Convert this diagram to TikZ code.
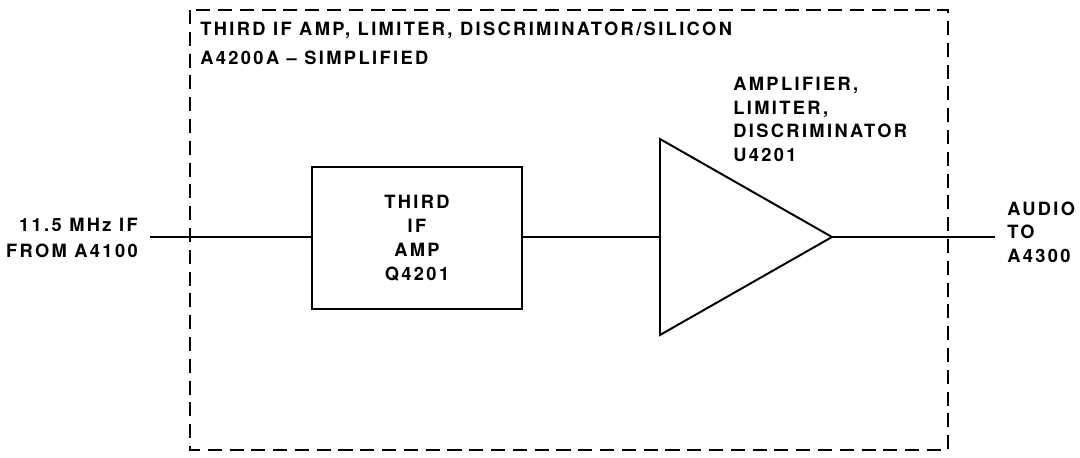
\documentclass[tikz,border=0pt]{standalone}
\usepackage{fontspec}
\setmainfont[LetterSpace=13]{TeX Gyre Heros}
\usetikzlibrary{positioning}

\begin{document}
\begin{tikzpicture}[
    x=0.025cm, y=-0.025cm,
    every node/.style={inner sep=0pt},
    lab/.style={font=\fontsize{13}{17}\selectfont\bfseries},
    wire/.style={line width=1.4pt},
    frame/.style={line width=1.4pt, dash pattern=on 10pt off 5.5pt},
    blk/.style={draw, line width=1.6pt, minimum width=5.25cm, minimum height=3.55cm,
        align=center, font=\fontsize{13}{17}\selectfont\bfseries},
]
\useasboundingbox (0,0) rectangle (1080,458);

% ============================================================ the dashed frame
\draw[frame] (190,10) rectangle (948,450);
\node[lab, anchor=north west, align=left, font=\fontsize{13}{20.5}\selectfont\bfseries] (title) at (200,21.5)
    {THIRD IF AMP, LIMITER, DISCRIMINATOR/SILICON\\ A4200A -- SIMPLIFIED};

% ============================================================ input
\coordinate (in) at (150,237);
\node[lab, anchor=north east, align=right, font=\fontsize{13}{19}\selectfont\bfseries] (inlab) at (138,217.5)
    {11.5 MHz IF\\ FROM A4100};

% ============================================================ third IF amp
\node[blk] (ifamp) at (417,238) {THIRD\\ IF\\ AMP\\ Q4201};

% ============================================================ amplifier, limiter, discriminator
\coordinate (ampin) at (660,237);
\coordinate (amptop) at (660,139);
\coordinate (ampbot) at (660,335);
\coordinate (amptip) at (832,237);
\draw[wire, line join=miter] (amptop) -- (amptip) -- (ampbot) -- cycle;
\node[lab, anchor=north west, align=left] (amplab) at (733,76.5)
    {AMPLIFIER,\\ LIMITER,\\ DISCRIMINATOR\\ U4201};

% ============================================================ output
\coordinate (out) at (995,237);
\node[lab, anchor=north west, align=left, font=\fontsize{13}{16.7}\selectfont\bfseries] (outlab) at (1007,201.5)
    {AUDIO\\ TO\\ A4300};

% ============================================================ wires
\draw[wire] (in) -- (in -| ifamp.west);
\draw[wire] (ampin -| ifamp.east) -- (ampin);
\draw[wire] (amptip) -- (out);

\end{tikzpicture}
\end{document}
